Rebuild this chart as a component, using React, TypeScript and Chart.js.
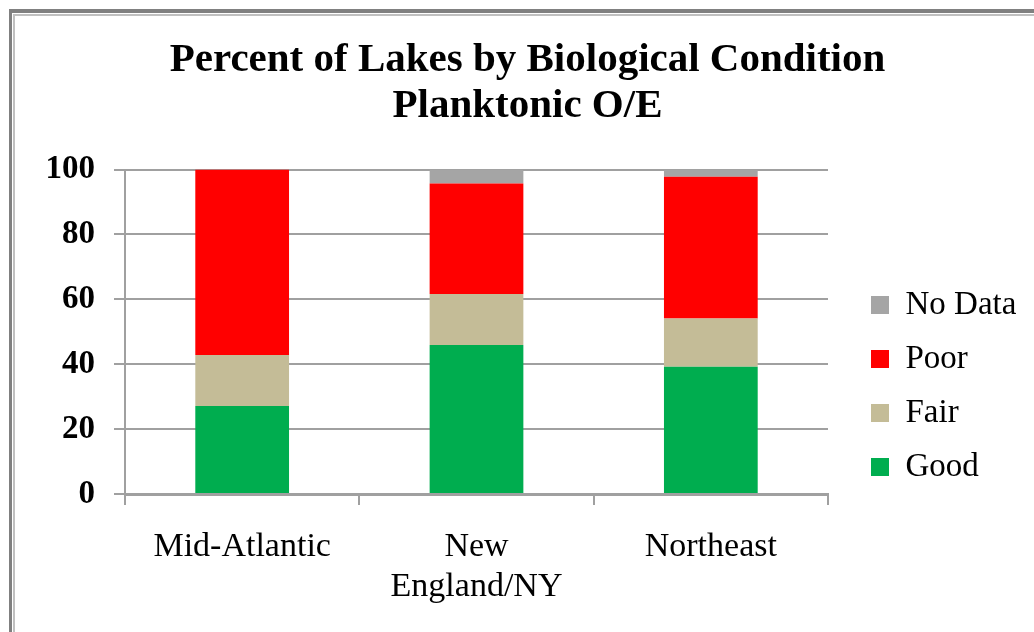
import React, { useEffect, useRef } from "react";
import { Chart, registerables } from "chart.js";

Chart.register(...registerables);

const categories: (string | string[])[] = ["Mid-Atlantic", ["New", "England/NY"], "Northeast"];
const goodValues = [27.1, 45.9, 39.2];
const fairValues = [15.7, 15.7, 14.9];
const poorValues = [57.2, 34.1, 43.7];
const noDataValues = [0, 4.3, 2.2];
const yTicks = [0, 20, 40, 60, 80, 100];
const titleLines = ["Percent of Lakes by Biological Condition", "Planktonic O/E"];

const FONT = "'Liberation Serif', 'Times New Roman', serif";

export default function App() {
  const ref = useRef<HTMLCanvasElement | null>(null);

  useEffect(() => {
    const canvas = ref.current;
    if (!canvas) return;
    const chart = new Chart(canvas, {
      type: "bar",
      data: {
        labels: categories,
        datasets: [
          { label: "Good", data: goodValues, backgroundColor: "#00AD4F", borderWidth: 0 },
          { label: "Fair", data: fairValues, backgroundColor: "#C4BC97", borderWidth: 0 },
          { label: "Poor", data: poorValues, backgroundColor: "#FF0000", borderWidth: 0 },
          { label: "No Data", data: noDataValues, backgroundColor: "#A5A5A5", borderWidth: 0 },
        ],
      },
      options: {
        responsive: false,
        animation: false,
        devicePixelRatio: 1,
        layout: { padding: { top: 0, left: 35, right: 14, bottom: 0 } },
        datasets: { bar: { categoryPercentage: 1, barPercentage: 0.4 } },
        plugins: {
          title: {
            display: true,
            text: titleLines,
            color: "#000",
            font: { family: FONT, size: 41, weight: "bold", lineHeight: 1.122 },
            padding: { top: 37.5, bottom: 40 },
          },
          legend: {
            display: true,
            position: "right",
            align: "center",
            reverse: true,
            maxWidth: 170,
            title: {
              display: true,
              text: "",
              font: { size: 10, lineHeight: 1 },
              padding: { top: 130, bottom: 0 },
            },
            labels: {
              boxWidth: 18,
              boxHeight: 18,
              padding: 21,
              color: "#000",
              font: { family: FONT, size: 33 },
            },
          },
          tooltip: { enabled: false },
        },
        scales: {
          x: {
            stacked: true,
            grid: {
              display: true,
              drawOnChartArea: false,
              drawTicks: true,
              tickLength: 11,
              color: "#a0a0a0",
              lineWidth: 2,
              offset: true,
            },
            border: { display: true, color: "#a0a0a0", width: 3 },
            ticks: {
              color: "#000",
              padding: 22.5,
              maxRotation: 0,
              autoSkip: false,
              font: { family: FONT, size: 34, lineHeight: 1.176 },
            },
            afterFit: (s: any) => {
              s.height = 138;
            },
          },
          y: {
            stacked: true,
            min: 0,
            max: 100,
            afterBuildTicks: (s: any) => {
              s.ticks = yTicks.map((v) => ({ value: v }));
            },
            grid: {
              color: "#a0a0a0",
              lineWidth: 2,
              tickLength: 11,
              drawTicks: true,
            },
            border: { display: true, color: "#a0a0a0", width: 2 },
            ticks: {
              color: "#000",
              padding: 19,
              font: { family: FONT, size: 33, weight: "bold" },
            },
            afterFit: (s: any) => {
              s.width = 90;
            },
          },
          y2: {
            type: "linear",
            position: "right",
            display: true,
            grid: { display: false, drawTicks: false },
            border: { display: false },
            ticks: { display: false },
            afterFit: (s: any) => {
              s.width = 22;
            },
          },
        },
      },
    });
    return () => chart.destroy();
  }, []);

  return (
    <div
      style={{
        position: "fixed",
        left: 0,
        top: 0,
        width: 1034,
        height: 632,
        overflow: "hidden",
        background: "#fff",
      }}
    >
      <div
        style={{
          position: "absolute",
          left: 9,
          top: 9,
          width: 1100,
          height: 700,
          borderTop: "4px solid #808080",
          borderLeft: "3px solid #808080",
        }}
      />
      <div
        style={{
          position: "absolute",
          left: 13,
          top: 14,
          width: 1100,
          height: 700,
          borderTop: "2px solid #c0c0c0",
          borderLeft: "2px solid #c0c0c0",
        }}
      />
      <canvas
        ref={ref}
        width={1034}
        height={632}
        style={{ position: "absolute", left: 0, top: 0, width: 1034, height: 632 }}
      />
    </div>
  );
}
